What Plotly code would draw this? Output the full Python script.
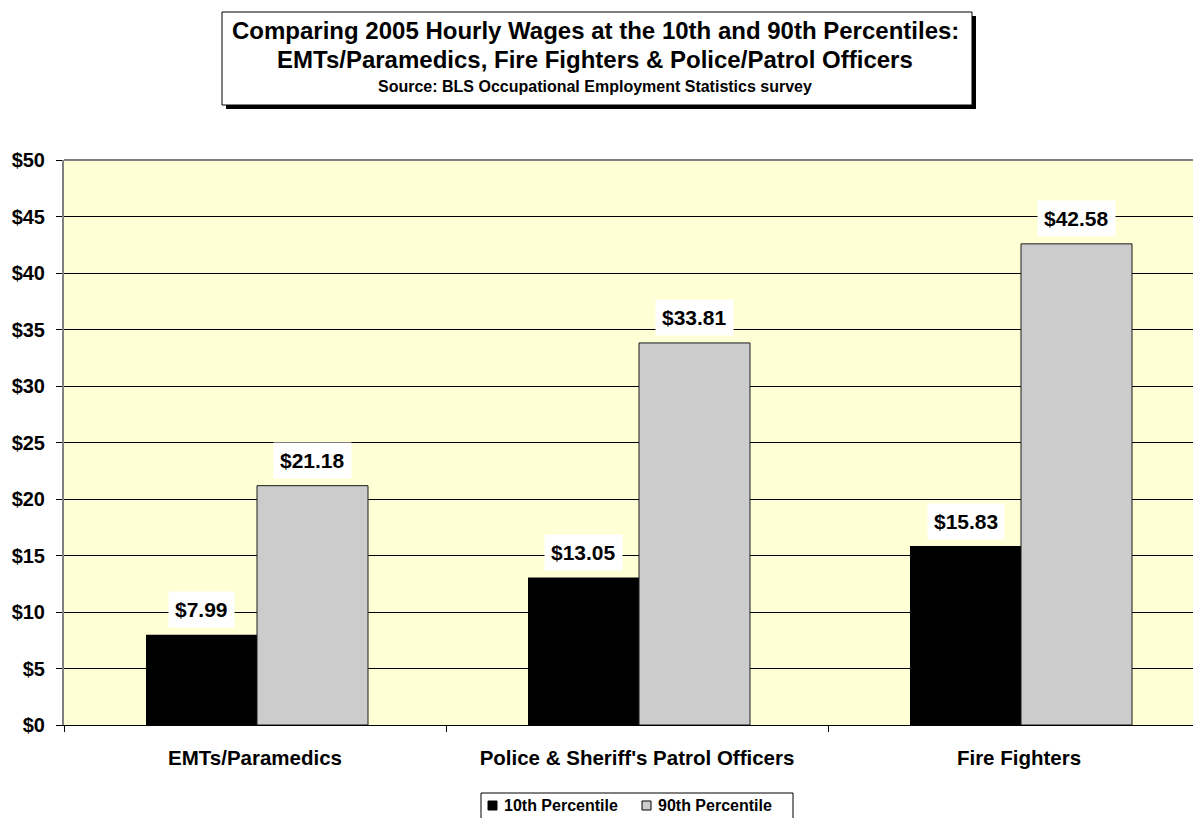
import plotly.graph_objects as go

categories = ["EMTs/Paramedics", "Police & Sheriff's Patrol Officers", "Fire Fighters"]
p10 = [7.99, 13.05, 15.83]
p90 = [21.18, 33.81, 42.58]
series_names = ["10th Percentile", "90th Percentile"]
series_colors = ["#000000", "#CCCCCC"]
ytick_vals = [0, 5, 10, 15, 20, 25, 30, 35, 40, 45, 50]
ytick_text = ["$" + str(v) for v in ytick_vals]

FONT = "Liberation Sans, Arial, sans-serif"
NARROW = "Liberation Sans Narrow, Arial Narrow, Liberation Sans, Arial, sans-serif"

# page offset (body margin) is 8px; plot area in page coords: x 64..(past right edge), y 160..725
OFF = 8
W, H = 1201, 818
PL, PT, PB = 64 - OFF, 160 - OFF, 725 - OFF
PR = W
PW, PH = PR - PL, PB - PT
CAT_PX = 382.0  # width of one category slot in pixels (plot runs past the page edge)
BAR_W = 111.0 / CAT_PX
SHIFT = 2.0 / CAT_PX


def px(x):
    return (x - OFF - PL) / PW


def py(y):
    return (PB - (y - OFF)) / PH


fig = go.Figure()
fig.add_trace(go.Bar(x=categories, y=p10, name=series_names[0], showlegend=False,
                     width=BAR_W, offset=-BAR_W + SHIFT,
                     marker=dict(color=series_colors[0], line=dict(color="#000000", width=0))))
fig.add_trace(go.Bar(x=categories, y=p90, name=series_names[1], showlegend=False,
                     width=BAR_W, offset=SHIFT,
                     marker=dict(color=series_colors[1], line=dict(color="#1a1a1a", width=1))))

# data labels
for i, c in enumerate(categories):
    for j, vals in enumerate([p10, p90]):
        fig.add_annotation(x=c, y=vals[i], text="<b>$%.2f</b>" % vals[i], showarrow=False,
                           xref="x", yref="y", xshift=(-53.5 if j == 0 else 57.5), yshift=25,
                           font=dict(family=FONT, size=21, color="black"),
                           bgcolor="white", borderpad=6)

# title box with shadow
fig.add_shape(type="rect", xref="paper", yref="paper",
              x0=px(226), x1=px(976), y0=py(109), y1=py(16),
              line=dict(width=0), fillcolor="black")
fig.add_shape(type="rect", xref="paper", yref="paper",
              x0=px(222), x1=px(972), y0=py(105), y1=py(12),
              line=dict(color="black", width=1), fillcolor="white")

title_cx = px(595)
fig.add_annotation(xref="paper", yref="paper", x=title_cx, y=py(30), showarrow=False,
                   text="<b>Comparing 2005 Hourly Wages at the 10th and 90th Percentiles:</b>",
                   font=dict(family=NARROW, size=24, color="black"), yanchor="middle")
fig.add_annotation(xref="paper", yref="paper", x=title_cx, y=py(60), showarrow=False,
                   text="<b>EMTs/Paramedics, Fire Fighters & Police/Patrol Officers</b>",
                   font=dict(family=NARROW, size=24, color="black"), yanchor="middle")
fig.add_annotation(xref="paper", yref="paper", x=title_cx, y=py(87), showarrow=False,
                   text="<b>Source: BLS Occupational Employment Statistics survey</b>",
                   font=dict(family=NARROW, size=16, color="black"), yanchor="middle")

# legend (drawn manually to match compact layout)
fig.add_shape(type="rect", xref="paper", yref="paper",
              x0=px(481), x1=px(793), y0=py(830), y1=py(793),
              line=dict(color="black", width=1), fillcolor="white")
leg_sq_x = [488, 642]
leg_tx_x = [502, 656]
for k in range(2):
    fig.add_shape(type="rect", xref="paper", yref="paper",
                  x0=px(leg_sq_x[k]), x1=px(leg_sq_x[k] + 9), y0=py(810), y1=py(801),
                  line=dict(color="black", width=1), fillcolor=series_colors[k])
    fig.add_annotation(xref="paper", yref="paper", x=px(leg_tx_x[k]), y=py(805.5), showarrow=False,
                       text="<b>%s</b>" % series_names[k], xanchor="left", yanchor="middle",
                       font=dict(family=FONT, size=16, color="black"))

fig.update_layout(
    width=W, height=H,
    margin=dict(l=PL, r=W - PR, t=PT, b=H - PB, autoexpand=False, pad=0),
    paper_bgcolor="white", plot_bgcolor="#FFFFD6",
    barmode="group", bargap=0.419, bargroupgap=0,
    showlegend=False,
    font=dict(family=FONT, color="black"),
)
fig.update_yaxes(range=[0, 50], tickvals=ytick_vals, ticktext=["<b>%s</b>" % t for t in ytick_text],
                 tickfont=dict(family=FONT, size=20, color="black"),
                 showgrid=True, gridcolor="black", gridwidth=1,
                 showline=True, linecolor="#808080", linewidth=2, mirror=False,
                 ticks="outside", ticklen=6, tickcolor="black", zeroline=False,
                 ticklabelstandoff=7)
fig.update_xaxes(type="category", range=[-0.5, -0.5 + PW / CAT_PX],
                 tickvals=categories, ticktext=["<b>%s</b>" % c for c in categories],
                 tickfont=dict(family=FONT, size=20.5, color="black"),
                 showline=True, linecolor="black", linewidth=1,
                 ticks="outside", tickson="boundaries", ticklen=6, tickcolor="black",
                 ticklabelstandoff=14)
# top border of plot area
fig.add_shape(type="line", xref="paper", yref="paper", x0=0, x1=1, y0=1, y1=1,
              line=dict(color="#808080", width=2))

fig.write_html("out.html")
